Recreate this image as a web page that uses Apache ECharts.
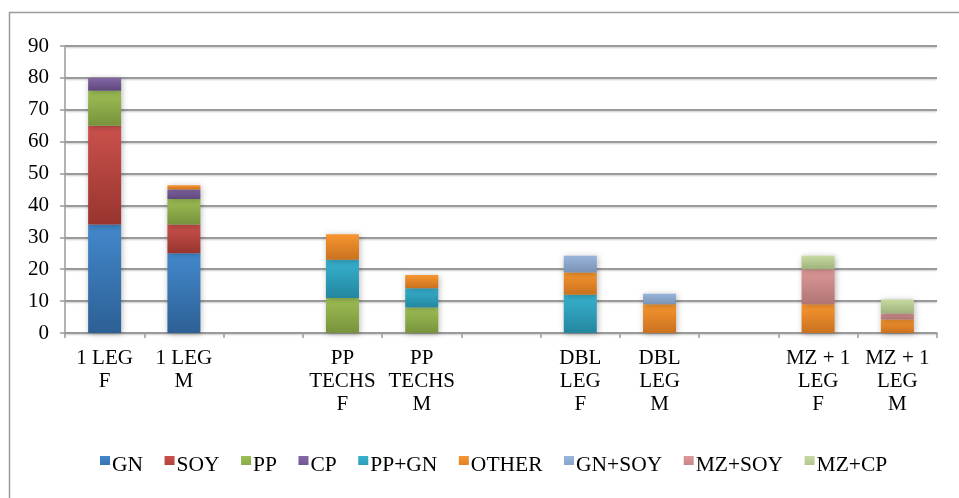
<!DOCTYPE html>
<html>
<head>
<meta charset="utf-8">
<script src="https://cdn.jsdelivr.net/npm/echarts@6/dist/echarts.min.js"></script>
<style>
  html, body { margin: 0; padding: 0; background: #fff; }
  #chart { width: 959px; height: 498px; }
</style>
</head>
<body>
<div id="chart"></div>
<script>
// Groups along the x axis (empty entries are spacer slots between groups)
var categories = ['1 LEG\nF', '1 LEG\nM', '', 'PP\nTECHS\nF', 'PP\nTECHS\nM', '',
                  'DBL\nLEG\nF', 'DBL\nLEG\nM', '', 'MZ + 1\nLEG\nF', 'MZ + 1\nLEG\nM'];

var seriesNames = ['GN', 'SOY', 'PP', 'CP', 'PP+GN', 'OTHER', 'GN+SOY', 'MZ+SOY', 'MZ+CP'];

var gnValues     = [34, 25, null, null, null, null, null, null, null, null, null];
var soyValues    = [31, 9, null, null, null, null, null, null, null, null, null];
var ppValues     = [11, 8, null, 11, 8, null, null, null, null, null, null];
var cpValues     = [4, 3, null, null, null, null, null, null, null, null, null];
var ppGnValues   = [null, null, null, 12, 6, null, 12, null, null, null, null];
var otherValues  = [null, 1.3, null, 8, 4.2, null, 7, 9, null, 9, 4.2];
var gnSoyValues  = [null, null, null, null, null, null, 5.2, 3.3, null, null, null];
var mzSoyValues  = [null, null, null, null, null, null, null, null, null, 11, 1.9];
var mzCpValues   = [null, null, null, null, null, null, null, null, null, 4.2, 4.4];

var yTicks = { min: 0, max: 90, interval: 10 };

var seriesValues = [gnValues, soyValues, ppValues, cpValues, ppGnValues,
                    otherValues, gnSoyValues, mzSoyValues, mzCpValues];

// top / bottom shades for each series' vertical gradient
var shades = [
  ['#4288CC', '#2D6095'],
  ['#CB514C', '#98342F'],
  ['#9EBF55', '#77933C'],
  ['#8467A8', '#5E4879'],
  ['#37B2CF', '#24869F'],
  ['#F8962F', '#C9711F'],
  ['#98B5DC', '#7A92B4'],
  ['#DE9998', '#AF7574'],
  ['#C6DAA0', '#9FB27D']
];

function grad(c) {
  return new echarts.graphic.LinearGradient(0, 0, 0, 1, [
    { offset: 0, color: c[0] },
    { offset: 1, color: c[1] }
  ]);
}

var FONT = "'Liberation Serif', 'Times New Roman', serif";

// legend marker: a 10x9 square in the upper half of an 18px tall slot,
// so it lines up with the top of the label text
var LEGEND_ICON = 'path://M0,0L10,0L10,9L0,9ZM0,18L0,18';

var series = seriesNames.map(function (name, i) {
  return {
    name: name,
    type: 'bar',
    stack: 'total',
    barWidth: 33,
    data: seriesValues[i],
    itemStyle: {
      color: grad(shades[i]),
      shadowBlur: 6,
      shadowColor: 'rgba(0,0,0,0.28)',
      shadowOffsetX: 1,
      shadowOffsetY: 1
    },
    emphasis: { disabled: true }
  };
});

var chart = echarts.init(document.getElementById('chart'), null, { renderer: 'canvas' });
chart.setOption({
  animation: false,
  backgroundColor: '#ffffff',
  textStyle: { fontFamily: FONT, color: '#000' },
  graphic: [{
    type: 'rect',
    shape: { x: 9.5, y: 12.5, width: 980, height: 520 },
    style: { fill: 'none', stroke: '#9a9a9a', lineWidth: 1.5 },
    silent: true
  }],
  grid: { left: 65, right: 22, top: 46, bottom: 165, containLabel: false },
  legend: {
    data: seriesNames,
    left: 95,
    top: 449,
    itemWidth: 10,
    itemHeight: 18,
    itemGap: 21.5,
    icon: LEGEND_ICON,
    textStyle: { fontFamily: FONT, fontSize: 21.5, lineHeight: 22, color: '#000', padding: [0, 0, 0, -3] },
    itemStyle: { borderWidth: 0 }
  },
  xAxis: {
    type: 'category',
    data: categories,
    axisLine: { lineStyle: { color: '#9a9a9a', width: 1.5 } },
    axisTick: { show: true, length: 5, alignWithLabel: false, lineStyle: { color: '#9a9a9a', width: 1.5 } },
    axisLabel: {
      interval: 0,
      margin: 14,
      fontFamily: FONT,
      fontSize: 21,
      lineHeight: 23,
      color: '#000'
    }
  },
  yAxis: {
    type: 'value',
    min: yTicks.min,
    max: yTicks.max,
    interval: yTicks.interval,
    axisLine: { show: true, lineStyle: { color: '#9a9a9a', width: 1.5 } },
    axisTick: { show: true, length: 5, lineStyle: { color: '#9a9a9a', width: 1.5 } },
    axisLabel: { margin: 16, fontFamily: FONT, fontSize: 21, color: '#000' },
    splitLine: {
      lineStyle: {
        color: '#9a9a9a',
        width: 2,
        shadowBlur: 2,
        shadowColor: 'rgba(0,0,0,0.2)',
        shadowOffsetY: 1
      }
    }
  },
  series: series
});
</script>
</body>
</html>
